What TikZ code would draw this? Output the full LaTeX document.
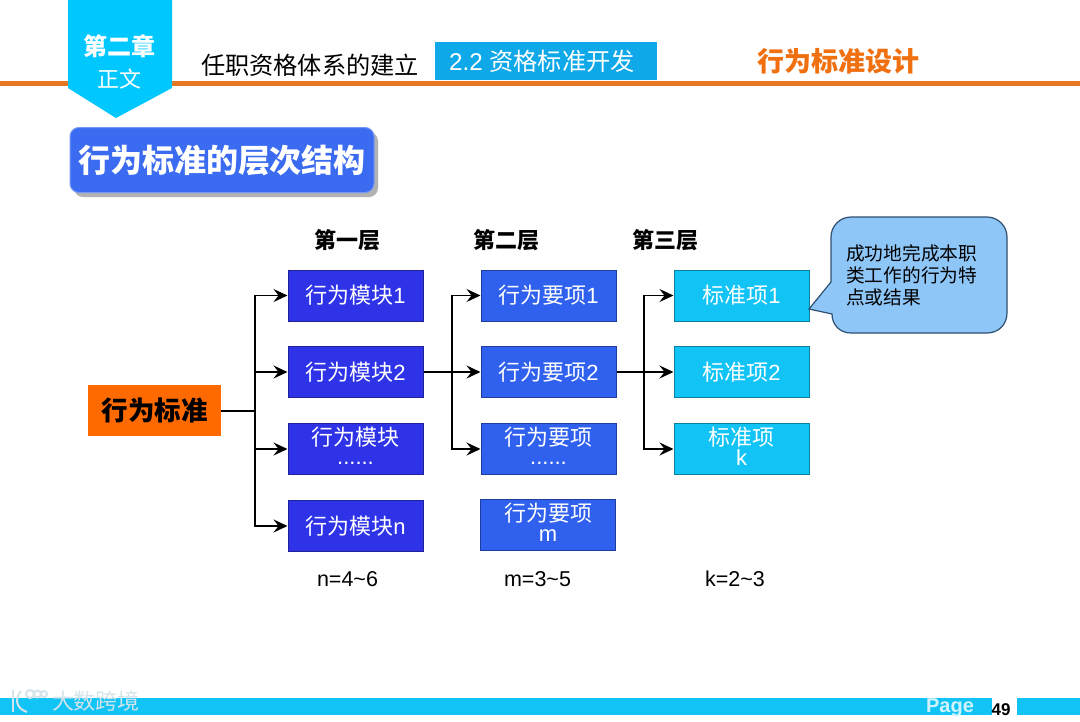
\documentclass[tikz,border=0pt]{standalone}
\usepackage{fontspec}
\setmainfont{Liberation Sans}
\newfontfamily\cjk{Noto Sans CJK SC}
\usetikzlibrary{arrows.meta}
\newcommand{\cj}[1]{{\cjk #1}}
\definecolor{barblue}{HTML}{12C4F5}
\definecolor{tabblue}{HTML}{00C8FF}
\definecolor{subblue}{HTML}{0FA8E8}
\definecolor{lineorange}{HTML}{E87722}
\definecolor{rootorange}{HTML}{FF6A00}
\definecolor{titleorange}{HTML}{F07010}
\definecolor{titleblue}{HTML}{3B6BF0}
\definecolor{modblue}{HTML}{2E33E8}
\definecolor{itemblue}{HTML}{2F60EE}
\definecolor{stdblue}{HTML}{12C4F5}
\definecolor{callblue}{HTML}{8EC6F8}
\definecolor{callline}{HTML}{2F4F70}
\definecolor{markpale}{HTML}{D5E3EA}
\tikzset{
  x=1pt,y=-1pt,
  levelbox/.style={minimum width=135pt,minimum height=51pt,inner sep=0pt,align=center,text=white,font=\fontsize{22}{24}\selectfont,line width=1pt},
  modbox/.style={levelbox,fill=modblue,draw=modblue!65!black},
  itembox/.style={levelbox,fill=itemblue,draw=itemblue!65!black},
  stdbox/.style={levelbox,fill=stdblue,draw=stdblue!65!black},
  link/.style={line width=1.5pt,draw=black},
  linkarrow/.style={link,-{Stealth[length=14pt,width=13pt,inset=5pt]}},
  head/.style={font=\fontsize{22}{24}\selectfont\bfseries},
  countlabel/.style={font=\fontsize{21.5}{24}\selectfont},
}
\begin{document}
\begin{tikzpicture}
\useasboundingbox (0,0) rectangle (1080,721);
\fill[white] (0,0) rectangle (1080,721);
% header
\fill[lineorange] (0,81) rectangle (1080,85.5);
\fill[tabblue] (68,0) -- (172,0) -- (172,88) -- (116,118) -- (68,88) -- cycle;
\node[text=white,font=\fontsize{24}{26}\selectfont\bfseries] (chap) at (119,46) {\cj{第二章}};
\node[text=white,font=\fontsize{22}{24}\selectfont] (zw) at (119,79) {\cj{正文}};
\node[font=\fontsize{24.2}{26}\selectfont] (hd1) at (310,65) {\cj{任职资格体系的建立}};
\node[fill=subblue,minimum width=222pt,minimum height=38pt,inner sep=0pt] (hd2) at (546,61) {};
\node[text=white,font=\fontsize{24.2}{26}\selectfont] (hd2t) at (542,61) {2.2 \cj{资格标准开发}};
\node[text=titleorange,font=\fontsize{27}{28}\selectfont\bfseries] (hd3) at (838.5,61) {\cj{行为标准设计}};
% title
\fill[black!30,rounded corners=9pt] (74,132) rectangle (378,197);
\node[fill=titleblue,draw=titleblue!70!white,line width=1pt,rounded corners=9pt,minimum width=304pt,minimum height=65pt,inner sep=0pt,text=white,font=\fontsize{32}{34}\selectfont\bfseries] (title) at (222,160) {\cj{行为标准的层次结构}};
% column heads
\node[head] (h1) at (347,240) {\cj{第一层}};
\node[head] (h2) at (506,240) {\cj{第二层}};
\node[head] (h3) at (665,240) {\cj{第三层}};
% root
\node[fill=rootorange,minimum width=133pt,minimum height=51pt,inner sep=0pt,font=\fontsize{26.5}{28}\selectfont\bfseries] (root) at (154.5,410.5) {\cj{行为标准}};
% level 1
\node[modbox] (m1) at (355.5,295.5) {\cj{行为模块}1};
\node[modbox] (m2) at (355.5,372) {\cj{行为模块}2};
\node[modbox] (m3) at (355.5,449) {\cj{行为模块}\\[-5pt]......\\[-18pt]\mbox{}};
\node[modbox] (m4) at (355.5,526) {\cj{行为模块}n};
% level 2
\node[itembox] (r1) at (548.5,295.5) {\cj{行为要项}1};
\node[itembox] (r2) at (548.5,372) {\cj{行为要项}2};
\node[itembox] (r3) at (548.5,449) {\cj{行为要项}\\[-5pt]......\\[-18pt]\mbox{}};
\node[itembox] (r4) at (548,525) {\cj{行为要项}\\[-4pt]m\\[-18pt]\mbox{}};
% level 3
\node[stdbox] (s1) at (741.5,295.5) {\cj{标准项}1};
\node[stdbox] (s2) at (741.5,372) {\cj{标准项}2};
\node[stdbox] (s3) at (741.5,449) {\cj{标准项}\\[-4pt]k\\[-18pt]\mbox{}};
% connectors
\coordinate (j1) at (255,411);
\coordinate (j2) at (452,372);
\coordinate (j3) at (644,372);
\draw[link] (j1 -| root.east) -- (j1);
\draw[linkarrow] (j1) |- (m1.west);
\draw[linkarrow] (j1) |- (m2.west);
\draw[linkarrow] (j1) |- (m3.west);
\draw[linkarrow] (j1) |- (m4.west);
\draw[linkarrow] (m2.east) -- (r2.west);
\draw[linkarrow] (j2) |- (r1.west);
\draw[linkarrow] (j2) |- (r3.west);
\draw[linkarrow] (r2.east) -- (s2.west);
\draw[linkarrow] (j3) |- (s1.west);
\draw[linkarrow] (j3) |- (s3.west);
% counts
\node[countlabel] (c1) at (347.5,579) {n=4\textasciitilde 6};
\node[countlabel] (c2) at (537.5,579) {m=3\textasciitilde 5};
\node[countlabel] (c3) at (735,579) {k=2\textasciitilde 3};
% callout
\draw[fill=callblue,draw=callline,line width=1.2pt]
  (831,282) -- (809,309) -- (832,314) .. controls (832,325) and (840,333) .. (851,333)
  -- (987,333) .. controls (998,333) and (1007,325) .. (1007,313)
  -- (1007,237) .. controls (1007,226) and (998,217) .. (987,217)
  -- (851,217) .. controls (840,217) and (831,226) .. (831,237) -- cycle;
\node[anchor=north west,inner sep=0pt,align=left,font=\fontsize{18.7}{22}\selectfont] (call) at (846,244) {\cj{成功地完成本职}\\\cj{类工作的行为特}\\\cj{点或结果}};
% footer
\fill[barblue] (0,698) rectangle (992,715);
\fill[barblue] (1017,698) rectangle (1080,715);
\node[anchor=base,text=white!80!barblue,font=\fontsize{20}{22}\selectfont\bfseries] (page) at (950,712) {Page};
\node[anchor=base,font=\fontsize{17}{19}\selectfont\bfseries] (pnum) at (1001,715) {49};
% watermark
\node[text=markpale,font=\fontsize{22}{24}\selectfont] (wm) at (96,701) {\cj{大数跨境}};
\begin{scope}[markpale,line width=2pt]
\draw (13,690) -- (13,712);
\draw (21,691) .. controls (15,698) and (15,708) .. (27,712);
\draw (30,694) circle[radius=4];
\draw (37.5,694) circle[radius=3.5];
\draw (44,694) circle[radius=3];
\end{scope}
\end{tikzpicture}
\end{document}
